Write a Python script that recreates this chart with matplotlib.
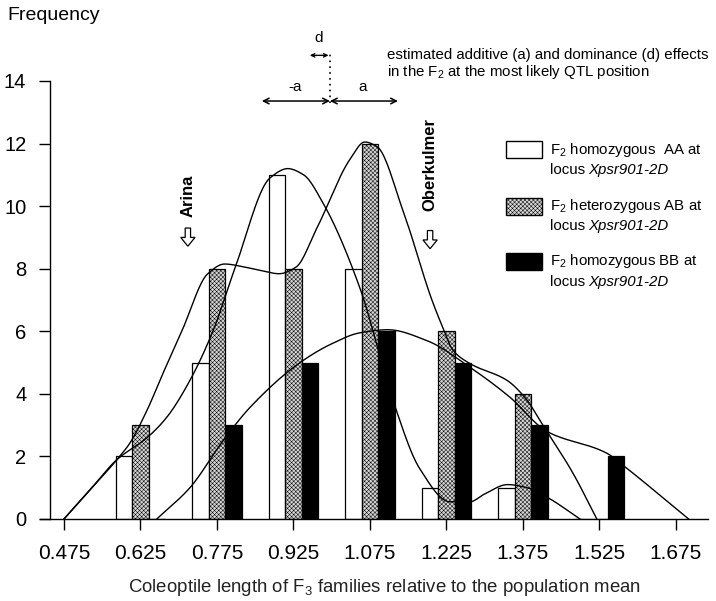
import numpy as np
import matplotlib
matplotlib.use("Agg")
import matplotlib.pyplot as plt
from matplotlib.patches import Rectangle, FancyArrow

plt.rcParams['font.family'] = ['Liberation Sans', 'DejaVu Sans']
plt.rcParams['mathtext.fontset'] = 'custom'
plt.rcParams['mathtext.rm'] = 'Liberation Sans'
plt.rcParams['mathtext.it'] = 'Liberation Sans:italic'
plt.rcParams['hatch.linewidth'] = 0.35
plt.rcParams['hatch.color'] = '#333333'

# bin centres (relative coleoptile length) and counts per genotype class
centers = [0.625, 0.775, 0.925, 1.075, 1.225, 1.375, 1.525]
aa_counts = [2, 5, 11, 8, 1, 1, 0]
ab_counts = [3, 8, 8, 12, 6, 4, 0]
bb_counts = [0, 3, 5, 6, 5, 3, 2]
xticks = [0.475, 0.625, 0.775, 0.925, 1.075, 1.225, 1.375, 1.525, 1.675]

# fitted curves
aa_cx = [0.475, 0.527, 0.579, 0.638, 0.677, 0.722, 0.767, 0.81, 0.879, 0.914, 0.945, 0.983, 1.055, 1.12, 1.173, 1.232, 1.271, 1.30, 1.345, 1.383, 1.422, 1.487]
aa_cy = [0, 0.95, 1.9, 2.6, 3.26, 4.43, 6.0, 8.0, 10.9, 11.2, 11.0, 10.1, 7.4, 3.8, 1.6, 0.55, 0.55, 0.8, 1.1, 1.0, 0.7, 0.0]
ab_cx = [0.475, 0.527, 0.579, 0.604, 0.638, 0.669, 0.706, 0.757, 0.79, 0.83, 0.861, 0.897, 0.93, 0.971, 1.036, 1.065, 1.089, 1.14, 1.197, 1.218, 1.238, 1.271, 1.344, 1.383, 1.408, 1.473, 1.52]
ab_cy = [0, 0.95, 1.9, 2.42, 3.48, 4.65, 6.0, 7.84, 8.15, 8.05, 7.94, 7.84, 8.05, 9.3, 11.5, 12.05, 11.9, 9.85, 6.98, 6.12, 5.39, 4.97, 4.43, 3.8, 3.16, 1.47, 0.0]
bb_cx = [0.657, 0.722, 0.787, 0.84, 0.938, 1.0, 1.055, 1.11, 1.187, 1.271, 1.349, 1.422, 1.54, 1.571, 1.70]
bb_cy = [0, 1.0, 2.5, 3.57, 5.0, 5.6, 5.95, 6.05, 5.7, 4.85, 3.9, 2.8, 2.1, 1.72, 0.0]


def smooth(xs, ys, n=400):
    # monotone cubic (pchip) through the traced points
    x = np.asarray(xs, float)
    y = np.asarray(ys, float)
    h = np.diff(x)
    d = np.diff(y) / h
    m = np.zeros_like(y)
    m[0], m[-1] = d[0], d[-1]
    for k in range(1, len(x) - 1):
        if d[k - 1] * d[k] > 0:
            w1 = 2 * h[k] + h[k - 1]
            w2 = h[k] + 2 * h[k - 1]
            m[k] = (w1 + w2) / (w1 / d[k - 1] + w2 / d[k])
    xx = np.linspace(x[0], x[-1], n)
    idx = np.clip(np.searchsorted(x, xx) - 1, 0, len(x) - 2)
    t = (xx - x[idx]) / h[idx]
    h00 = 2 * t ** 3 - 3 * t ** 2 + 1
    h10 = t ** 3 - 2 * t ** 2 + t
    h01 = -2 * t ** 3 + 3 * t ** 2
    h11 = t ** 3 - t ** 2
    yy = h00 * y[idx] + h10 * h[idx] * m[idx] + h01 * y[idx + 1] + h11 * h[idx] * m[idx + 1]
    return xx, np.clip(yy, 0, None)


W, H = 716, 601
fig = plt.figure(figsize=(W / 100, H / 100), dpi=100)
ax = fig.add_axes([40 / W, 1 - 519 / H, 668 / W, 438 / H])

fx = lambda px: px / W
fy = lambda py: 1 - py / H

hatch_face = '#d6d6d6'
bw = 0.0325
c = np.array(centers)
ax.bar(c - bw, aa_counts, bw, color='white', edgecolor='black', lw=0.9, zorder=2)
ax.bar(c, ab_counts, bw, color=hatch_face, edgecolor='black', hatch='xxxxxxxx', lw=0.9, zorder=2)
ax.bar(c + bw, bb_counts, bw, color='black', edgecolor='black', lw=0.9, zorder=2)

for xs, ys in [(aa_cx, aa_cy), (ab_cx, ab_cy), (bb_cx, bb_cy)]:
    sx, sy = smooth(xs, ys)
    ax.plot(sx, sy, color='black', lw=1.0, zorder=3)

ax.set_xlim(0.428, 1.738)
ax.set_ylim(0, 14)
ax.spines['top'].set_visible(False)
ax.spines['right'].set_visible(False)
ax.spines['left'].set_position(('data', 0.4475))
ax.spines['left'].set_bounds(0, 14)
for s in ['left', 'bottom']:
    ax.spines[s].set_linewidth(1.0)
ax.set_xticks(xticks)
ax.set_xticklabels(['%.3f' % v for v in xticks])
ax.set_yticks(range(0, 15, 2))
ax.tick_params(axis='both', direction='out', length=8, width=1.0)
ax.tick_params(axis='x', labelsize=15, pad=10)
ax.tick_params(axis='y', labelsize=14.5, pad=9)

fig.text(fx(7), fy(16), 'Frequency', fontsize=14, va='center', ha='left')
fig.text(fx(384), fy(588), 'Coleoptile length of F$_3$ families relative to the population mean',
         fontsize=13.4, ha='center', va='center', color='#222222')

# parent markers
ax.text(0.718, 10.33, 'Arina', rotation=90, fontsize=12, fontweight='bold', ha='center', va='center')
ax.text(1.193, 11.32, 'Oberkulmer', rotation=90, fontsize=12, fontweight='bold', ha='center', va='center')
for xa, ya in [(0.718, 9.3), (1.193, 9.22)]:
    ax.add_patch(FancyArrow(xa, ya, 0, -0.58, width=0.0105, head_width=0.028, head_length=0.28,
                            length_includes_head=True, fc='white', ec='black', lw=0.9, zorder=4))

# additive / dominance effect arrows
mid = 0.9966
ax.plot([mid, mid], [13.3, 14.85], ls=(0, (1, 2.5)), color='black', lw=1.2, clip_on=False)
arr = dict(arrowstyle='<->', color='black', lw=1.1, shrinkA=0, shrinkB=0)
ax.annotate('', xy=(0.863, 13.36), xytext=(mid, 13.36), arrowprops=arr, annotation_clip=False)
ax.annotate('', xy=(1.13, 13.36), xytext=(mid, 13.36), arrowprops=arr, annotation_clip=False)
ax.annotate('', xy=(0.957, 14.82), xytext=(0.994, 14.82),
            arrowprops=dict(arrowstyle='<->, head_length=0.25, head_width=0.12', color='black', lw=1.0,
                            shrinkA=0, shrinkB=0), annotation_clip=False)
ax.text(0.928, 13.6, '-a', fontsize=11, ha='center', va='bottom')
ax.text(1.061, 13.6, 'a', fontsize=11, ha='center', va='bottom')
ax.text(0.975, 15.15, 'd', fontsize=11, ha='center', va='bottom', clip_on=False)
fig.text(fx(387), fy(55), 'estimated additive (a) and dominance (d) effects', fontsize=10.8, va='center')
fig.text(fx(387), fy(72), 'in the F$_2$ at the most likely QTL position', fontsize=10.8, va='center')

# legend
items = [('white', None, 'F$_2$ homozygous  AA at', 141, 150, 170),
         (hatch_face, 'xxxxxxxx', 'F$_2$ heterozygous AB at', 198, 206, 226),
         ('black', None, 'F$_2$ homozygous BB at', 253, 261, 282)]
for fc, hatch, lab, ry, t1, t2 in items:
    fig.patches.append(Rectangle((fx(506), fy(ry + 17)), 36 / W, 17 / H, transform=fig.transFigure,
                                 facecolor=fc, edgecolor='black', hatch=hatch, lw=1.0))
    fig.text(fx(550), fy(t1), lab, fontsize=10.8, va='center')
    fig.text(fx(550), fy(t2), 'locus', fontsize=10.8, va='center')
    fig.text(fx(588), fy(t2), 'Xpsr901-2D', fontsize=10.8, va='center', style='italic')

fig.savefig('out.png', dpi=100)
